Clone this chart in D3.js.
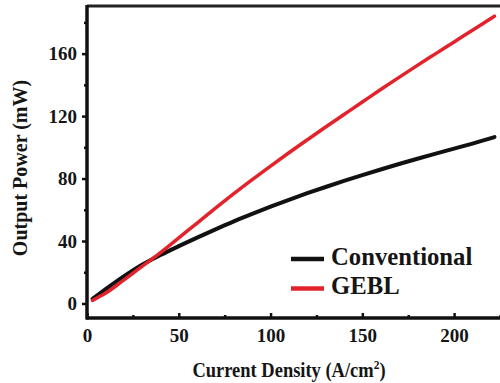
<!DOCTYPE html>
<html><head><meta charset="utf-8">
<script src="https://cdn.jsdelivr.net/npm/d3@7"></script>
<style>body{margin:0;background:#fff}svg{display:block}text{font-family:"Liberation Serif","Times New Roman",serif;font-weight:bold;fill:#151515}</style>
</head><body>
<script>
const currentDensity = [3,10,20,30,40,50,60,70,80,90,100,110,120,130,140,150,160,170,180,190,200,210,222];
const conventional   = [3,9,17.3,24.8,31,36.7,42.2,47.5,52.6,57.4,62,66.4,70.6,74.6,78.5,82.2,85.8,89.3,92.7,96,99.2,102.4,106.5];
const gebl           = [2,6.5,15,23.8,32.5,42,51.5,61,70.3,79.3,88,96.5,104.8,113,121,129,137,144.8,152.5,160,167.5,175,184];
const xTicks = [0,50,100,150,200];
const xMinor = [25,75,125,175,225];
const yTicks = [0,40,80,120,160];
const yMinor = [20,60,100,140,180];
const seriesNames = ["Conventional","GEBL"];
const colors = ["#111111","#e3232c"];

const W=500,H=383;
const svg=d3.select("body").append("svg").attr("width",W).attr("height",H);
const x=d3.scaleLinear().domain([0,225]).range([87,500]);
const y=d3.scaleLinear().domain([-9.3,190.5]).range([318,6]);

// top border
svg.append("line").attr("x1",87).attr("x2",W).attr("y1",6).attr("y2",6).attr("stroke","#222").attr("stroke-width",3);

// curves
const line=d3.line().x((d,i)=>x(currentDensity[i])).y(d=>y(d)).curve(d3.curveMonotoneX);
[conventional,gebl].forEach((s,k)=>{
  svg.append("path").attr("d",line(s)).attr("fill","none").attr("stroke",colors[k]).attr("stroke-width",k===0?4:3.5).attr("stroke-linecap","round");
});

// x axis
const gx=svg.append("g").attr("transform","translate(0,318)");
gx.call(d3.axisBottom(x).tickValues(xTicks).tickSize(-5).tickPadding(0).tickFormat(d3.format("d")));
gx.append("g").call(d3.axisBottom(x).tickValues(xMinor).tickSize(-3).tickFormat(""));
gx.selectAll(".domain").remove();
gx.selectAll("text").attr("dy",null).attr("y",24).style("font-size","19px");
gx.selectAll("line").attr("stroke","#111").attr("stroke-width",2.5);
svg.append("line").attr("x1",86).attr("x2",W).attr("y1",318).attr("y2",318).attr("stroke","#111").attr("stroke-width",3.5);

// y axis
const gy=svg.append("g").attr("transform","translate(87,0)");
gy.call(d3.axisLeft(y).tickValues(yTicks).tickSize(5).tickPadding(5).tickFormat(d3.format("d")));
gy.append("g").call(d3.axisLeft(y).tickValues(yMinor).tickSize(3).tickFormat(""));
gy.selectAll(".domain").remove();
gy.selectAll("text").style("font-size","19px");
gy.selectAll("line").attr("stroke","#111").attr("stroke-width",2.5);
svg.append("line").attr("x1",87).attr("x2",87).attr("y1",5).attr("y2",319.5).attr("stroke","#111").attr("stroke-width",3.5);

// axis titles
const xt=svg.append("text").attr("transform","translate(289,377) scale(0.88,1)").attr("text-anchor","middle").style("font-size","21px");
xt.append("tspan").text("Current Density (A/cm");
xt.append("tspan").text("2").attr("dy",-8).style("font-size","13px");
xt.append("tspan").text(")").attr("dy",8);
svg.append("text").attr("transform","translate(27,168) rotate(-90)").attr("text-anchor","middle").style("font-size","20px").text("Output Power (mW)");

// legend
const ly=[259,288.5];
seriesNames.forEach((n,k)=>{
  svg.append("line").attr("x1",291).attr("x2",324).attr("y1",ly[k]).attr("y2",ly[k]).attr("stroke",colors[k]).attr("stroke-width",4.5);
  svg.append("text").attr("transform",`translate(331,${ly[k]+5.5}) scale(0.95,1)`).style("font-size","26px").text(n);
});
</script>
</body></html>
